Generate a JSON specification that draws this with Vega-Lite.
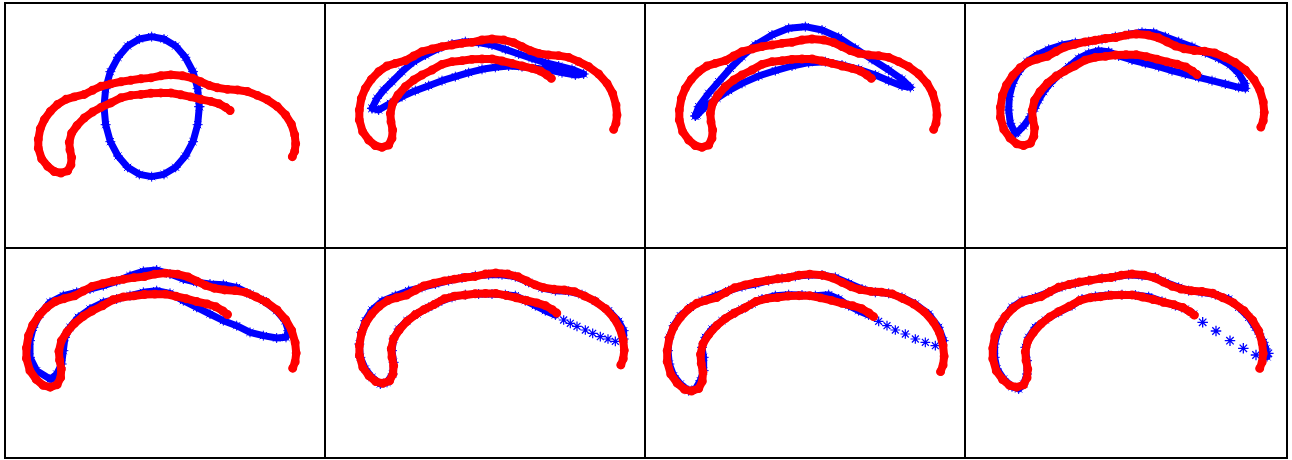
{
"$schema": "https://vega.github.io/schema/vega-lite/v6.json",
"padding": {"left": 4, "top": 2, "right": 0, "bottom": 0},
"spacing": 0,
"columns": 4,
"bounds": "flush",
"config": {"view": {"stroke": "black", "strokeWidth": 2}, "concat": {"spacing": 0}},
"datasets": {
"red": [{"x":875,"y":388},{"x":882,"y":370},{"x":885,"y":345},{"x":882,"y":315},{"x":872,"y":280},{"x":855,"y":250},{"x":830,"y":222},{"x":800,"y":200},{"x":770,"y":185},{"x":740,"y":172},{"x":710,"y":167},{"x":680,"y":165},{"x":650,"y":160},{"x":625,"y":152},{"x":600,"y":140},{"x":575,"y":128},{"x":545,"y":120},{"x":510,"y":117},{"x":480,"y":120},{"x":450,"y":127},{"x":420,"y":130},{"x":390,"y":135},{"x":360,"y":140},{"x":330,"y":147},{"x":300,"y":155},{"x":275,"y":168},{"x":250,"y":182},{"x":220,"y":190},{"x":195,"y":198},{"x":170,"y":215},{"x":148,"y":238},{"x":130,"y":265},{"x":118,"y":295},{"x":112,"y":330},{"x":112,"y":360},{"x":122,"y":395},{"x":140,"y":420},{"x":160,"y":437},{"x":180,"y":442},{"x":200,"y":435},{"x":210,"y":415},{"x":212,"y":390},{"x":207,"y":365},{"x":205,"y":340},{"x":212,"y":310},{"x":228,"y":285},{"x":250,"y":260},{"x":275,"y":240},{"x":300,"y":225},{"x":330,"y":210},{"x":360,"y":193},{"x":390,"y":185},{"x":420,"y":182},{"x":450,"y":178},{"x":480,"y":177},{"x":510,"y":177},{"x":540,"y":183},{"x":570,"y":190},{"x":600,"y":198},{"x":630,"y":205},{"x":655,"y":213},{"x":675,"y":225},{"x":688,"y":235}],
"b1": [{"x":598,"y":320},{"x":593,"y":266},{"x":579,"y":215},{"x":556,"y":172},{"x":527,"y":138},{"x":492,"y":117},{"x":455,"y":110},{"x":418,"y":117},{"x":383,"y":138},{"x":354,"y":172},{"x":331,"y":215},{"x":317,"y":266},{"x":312,"y":320},{"x":317,"y":374},{"x":331,"y":425},{"x":354,"y":468},{"x":383,"y":502},{"x":418,"y":523},{"x":455,"y":530},{"x":492,"y":523},{"x":527,"y":502},{"x":556,"y":468},{"x":579,"y":425},{"x":593,"y":374},{"x":598,"y":320}],
"b2": [{"x":150,"y":325},{"x":165,"y":295},{"x":185,"y":270},{"x":210,"y":245},{"x":240,"y":215},{"x":275,"y":185},{"x":310,"y":165},{"x":350,"y":145},{"x":390,"y":132},{"x":430,"y":125},{"x":470,"y":128},{"x":510,"y":135},{"x":550,"y":148},{"x":590,"y":162},{"x":630,"y":175},{"x":670,"y":188},{"x":710,"y":198},{"x":750,"y":208},{"x":785,"y":222},{"x":760,"y":225},{"x":720,"y":218},{"x":680,"y":210},{"x":640,"y":205},{"x":600,"y":200},{"x":560,"y":198},{"x":520,"y":202},{"x":480,"y":208},{"x":440,"y":218},{"x":400,"y":230},{"x":360,"y":242},{"x":320,"y":257},{"x":280,"y":272},{"x":240,"y":290},{"x":205,"y":310},{"x":170,"y":330},{"x":150,"y":325}],
"b3": [{"x":160,"y":348},{"x":170,"y":320},{"x":200,"y":280},{"x":230,"y":245},{"x":265,"y":205},{"x":300,"y":170},{"x":340,"y":135},{"x":390,"y":105},{"x":440,"y":85},{"x":490,"y":80},{"x":540,"y":90},{"x":590,"y":112},{"x":640,"y":145},{"x":690,"y":178},{"x":740,"y":210},{"x":780,"y":238},{"x":805,"y":262},{"x":780,"y":258},{"x":740,"y":242},{"x":700,"y":225},{"x":650,"y":208},{"x":600,"y":195},{"x":550,"y":185},{"x":500,"y":188},{"x":450,"y":198},{"x":400,"y":212},{"x":350,"y":228},{"x":300,"y":250},{"x":260,"y":272},{"x":225,"y":295},{"x":190,"y":320},{"x":165,"y":345},{"x":160,"y":348}],
"b4": [{"x":160,"y":400},{"x":145,"y":370},{"x":140,"y":330},{"x":142,"y":290},{"x":152,"y":250},{"x":170,"y":215},{"x":195,"y":185},{"x":225,"y":165},{"x":260,"y":148},{"x":300,"y":135},{"x":340,"y":128},{"x":380,"y":125},{"x":420,"y":118},{"x":460,"y":110},{"x":500,"y":103},{"x":540,"y":97},{"x":575,"y":98},{"x":610,"y":110},{"x":650,"y":125},{"x":690,"y":140},{"x":730,"y":158},{"x":770,"y":175},{"x":805,"y":195},{"x":830,"y":220},{"x":848,"y":250},{"x":850,"y":265},{"x":830,"y":262},{"x":790,"y":252},{"x":750,"y":242},{"x":710,"y":232},{"x":670,"y":222},{"x":630,"y":212},{"x":590,"y":200},{"x":550,"y":190},{"x":510,"y":180},{"x":470,"y":168},{"x":440,"y":155},{"x":410,"y":152},{"x":380,"y":160},{"x":350,"y":175},{"x":320,"y":200},{"x":290,"y":225},{"x":265,"y":250},{"x":245,"y":275},{"x":230,"y":300},{"x":218,"y":325},{"x":205,"y":350},{"x":185,"y":378},{"x":165,"y":398},{"x":160,"y":400}],
"b5": [{"x":150,"y":405},{"x":110,"y":380},{"x":90,"y":340},{"x":90,"y":290},{"x":100,"y":250},{"x":120,"y":210},{"x":150,"y":175},{"x":190,"y":155},{"x":230,"y":145},{"x":270,"y":135},{"x":310,"y":125},{"x":350,"y":112},{"x":390,"y":95},{"x":430,"y":82},{"x":470,"y":78},{"x":510,"y":90},{"x":550,"y":105},{"x":590,"y":115},{"x":630,"y":120},{"x":670,"y":122},{"x":710,"y":130},{"x":750,"y":150},{"x":790,"y":170},{"x":830,"y":200},{"x":855,"y":230},{"x":865,"y":260},{"x":858,"y":280},{"x":830,"y":282},{"x":790,"y":275},{"x":750,"y":265},{"x":710,"y":245},{"x":670,"y":230},{"x":630,"y":210},{"x":590,"y":190},{"x":550,"y":170},{"x":510,"y":148},{"x":470,"y":140},{"x":430,"y":145},{"x":390,"y":155},{"x":350,"y":165},{"x":310,"y":175},{"x":270,"y":195},{"x":235,"y":220},{"x":210,"y":250},{"x":195,"y":280},{"x":190,"y":320},{"x":185,"y":360},{"x":170,"y":390},{"x":155,"y":405}],
"b6": [{"x":905,"y":285},{"x":905,"y":260},{"x":890,"y":232},{"x":860,"y":200},{"x":820,"y":172},{"x":780,"y":152},{"x":740,"y":142},{"x":700,"y":140},{"x":660,"y":132},{"x":620,"y":115},{"x":580,"y":98},{"x":540,"y":92},{"x":500,"y":92},{"x":460,"y":95},{"x":420,"y":102},{"x":380,"y":110},{"x":340,"y":120},{"x":300,"y":130},{"x":260,"y":140},{"x":220,"y":155},{"x":180,"y":172},{"x":150,"y":198},{"x":130,"y":230},{"x":118,"y":265},{"x":112,"y":300},{"x":115,"y":340},{"x":130,"y":375},{"x":150,"y":400},{"x":175,"y":420},{"x":195,"y":415},{"x":212,"y":390},{"x":215,"y":355},{"x":210,"y":320},{"x":215,"y":285},{"x":230,"y":255},{"x":255,"y":230},{"x":285,"y":210},{"x":320,"y":190},{"x":350,"y":175},{"x":390,"y":160},{"x":430,"y":152},{"x":470,"y":150},{"x":510,"y":150},{"x":550,"y":152},{"x":580,"y":155},{"x":610,"y":170},{"x":640,"y":185},{"x":670,"y":200},{"x":700,"y":213}],
"t6": [{"x":725,"y":228},{"x":745,"y":238},{"x":765,"y":247},{"x":790,"y":258},{"x":812,"y":268},{"x":835,"y":278},{"x":858,"y":285},{"x":880,"y":292}],
"b7": [{"x":905,"y":290},{"x":890,"y":250},{"x":860,"y":210},{"x":820,"y":180},{"x":780,"y":160},{"x":740,"y":148},{"x":700,"y":145},{"x":660,"y":135},{"x":620,"y":118},{"x":580,"y":100},{"x":540,"y":93},{"x":500,"y":93},{"x":460,"y":97},{"x":420,"y":103},{"x":380,"y":110},{"x":340,"y":120},{"x":300,"y":128},{"x":260,"y":140},{"x":220,"y":155},{"x":180,"y":170},{"x":145,"y":190},{"x":115,"y":215},{"x":95,"y":245},{"x":82,"y":280},{"x":78,"y":320},{"x":82,"y":360},{"x":95,"y":395},{"x":115,"y":420},{"x":140,"y":440},{"x":160,"y":435},{"x":175,"y":410},{"x":185,"y":380},{"x":185,"y":340},{"x":180,"y":310},{"x":190,"y":280},{"x":210,"y":255},{"x":240,"y":230},{"x":270,"y":210},{"x":300,"y":195},{"x":330,"y":180},{"x":360,"y":165},{"x":400,"y":155},{"x":440,"y":152},{"x":480,"y":153},{"x":520,"y":155},{"x":560,"y":152},{"x":590,"y":165},{"x":620,"y":185},{"x":650,"y":200},{"x":680,"y":213}],
"t7": [{"x":710,"y":232},{"x":735,"y":245},{"x":760,"y":258},{"x":790,"y":270},{"x":820,"y":285},{"x":850,"y":295},{"x":880,"y":305}],
"b8": [{"x":915,"y":338},{"x":912,"y":315},{"x":905,"y":295},{"x":892,"y":270},{"x":880,"y":250},{"x":860,"y":220},{"x":830,"y":190},{"x":800,"y":165},{"x":760,"y":152},{"x":720,"y":145},{"x":680,"y":140},{"x":650,"y":130},{"x":610,"y":115},{"x":580,"y":100},{"x":540,"y":95},{"x":500,"y":92},{"x":460,"y":98},{"x":420,"y":103},{"x":380,"y":110},{"x":340,"y":118},{"x":300,"y":128},{"x":260,"y":145},{"x":220,"y":160},{"x":180,"y":170},{"x":150,"y":190},{"x":125,"y":225},{"x":108,"y":260},{"x":98,"y":300},{"x":98,"y":340},{"x":105,"y":375},{"x":125,"y":405},{"x":150,"y":428},{"x":170,"y":435},{"x":185,"y":420},{"x":195,"y":390},{"x":195,"y":350},{"x":190,"y":310},{"x":200,"y":280},{"x":220,"y":250},{"x":250,"y":228},{"x":290,"y":205},{"x":330,"y":185},{"x":360,"y":165},{"x":400,"y":157},{"x":440,"y":153},{"x":480,"y":152},{"x":520,"y":153},{"x":560,"y":158},{"x":600,"y":172},{"x":640,"y":185},{"x":670,"y":195},{"x":695,"y":210}],
"t8": [{"x":722,"y":235},{"x":762,"y":261},{"x":804,"y":290},{"x":844,"y":313},{"x":882,"y":333},{"x":919,"y":328}]
},
"concat": [
{"width": 320, "height": 245, "resolve": {"scale": {"x": "independent", "y": "independent"}}, "layer": [
{"data": {"name": "b1"}, "mark": {"type": "line", "color": "#0000ff", "strokeWidth": 7, "strokeJoin": "round", "strokeCap": "round"}, "encoding": {"x": {"field": "x", "type": "quantitative", "scale": {"domain": [15, 975], "nice": false, "zero": false}, "axis": null}, "y": {"field": "y", "type": "quantitative", "scale": {"domain": [9, 744], "reverse": true, "nice": false, "zero": false}, "axis": null}, "order": {"value": null}}},
{"data": {"name": "b1"}, "mark": {"type": "point", "shape": "M-1,0L1,0M0,-1L0,1M-0.71,-0.71L0.71,0.71M-0.71,0.71L0.71,-0.71", "filled": false, "color": "#0000ff", "size": 100, "strokeWidth": 1, "opacity": 1}, "encoding": {"x": {"field": "x", "type": "quantitative", "scale": {"domain": [15, 975], "nice": false, "zero": false}, "axis": null}, "y": {"field": "y", "type": "quantitative", "scale": {"domain": [9, 744], "reverse": true, "nice": false, "zero": false}, "axis": null}}},
{"data": {"name": "red"}, "mark": {"type": "line", "color": "#ff0000", "strokeWidth": 8, "strokeJoin": "round", "strokeCap": "round"}, "encoding": {"x": {"field": "x", "type": "quantitative", "scale": {"domain": [11.9, 973.1], "nice": false, "zero": false}, "axis": null}, "y": {"field": "y", "type": "quantitative", "scale": {"domain": [-120.9, 690.4], "reverse": true, "nice": false, "zero": false}, "axis": null}, "order": {"value": null}}},
{"data": {"name": "red"}, "mark": {"type": "point", "shape": "circle", "filled": false, "color": "#ff0000", "size": 55, "strokeWidth": 1.5, "opacity": 1}, "encoding": {"x": {"field": "x", "type": "quantitative", "scale": {"domain": [11.9, 973.1], "nice": false, "zero": false}, "axis": null}, "y": {"field": "y", "type": "quantitative", "scale": {"domain": [-120.9, 690.4], "reverse": true, "nice": false, "zero": false}, "axis": null}}}
]},
{"width": 320, "height": 245, "resolve": {"scale": {"x": "independent", "y": "independent"}}, "layer": [
{"data": {"name": "b2"}, "mark": {"type": "line", "color": "#0000ff", "strokeWidth": 7, "strokeJoin": "round", "strokeCap": "round"}, "encoding": {"x": {"field": "x", "type": "quantitative", "scale": {"domain": [9, 969], "nice": false, "zero": false}, "axis": null}, "y": {"field": "y", "type": "quantitative", "scale": {"domain": [9, 744], "reverse": true, "nice": false, "zero": false}, "axis": null}, "order": {"value": null}}},
{"data": {"name": "b2"}, "mark": {"type": "point", "shape": "M-1,0L1,0M0,-1L0,1M-0.71,-0.71L0.71,0.71M-0.71,0.71L0.71,-0.71", "filled": false, "color": "#0000ff", "size": 100, "strokeWidth": 1, "opacity": 1}, "encoding": {"x": {"field": "x", "type": "quantitative", "scale": {"domain": [9, 969], "nice": false, "zero": false}, "axis": null}, "y": {"field": "y", "type": "quantitative", "scale": {"domain": [9, 744], "reverse": true, "nice": false, "zero": false}, "axis": null}}},
{"data": {"name": "red"}, "mark": {"type": "line", "color": "#ff0000", "strokeWidth": 8, "strokeJoin": "round", "strokeCap": "round"}, "encoding": {"x": {"field": "x", "type": "quantitative", "scale": {"domain": [9, 969], "nice": false, "zero": false}, "axis": null}, "y": {"field": "y", "type": "quantitative", "scale": {"domain": [9, 744], "reverse": true, "nice": false, "zero": false}, "axis": null}, "order": {"value": null}}},
{"data": {"name": "red"}, "mark": {"type": "point", "shape": "circle", "filled": false, "color": "#ff0000", "size": 55, "strokeWidth": 1.5, "opacity": 1}, "encoding": {"x": {"field": "x", "type": "quantitative", "scale": {"domain": [9, 969], "nice": false, "zero": false}, "axis": null}, "y": {"field": "y", "type": "quantitative", "scale": {"domain": [9, 744], "reverse": true, "nice": false, "zero": false}, "axis": null}}}
]},
{"width": 320, "height": 245, "resolve": {"scale": {"x": "independent", "y": "independent"}}, "layer": [
{"data": {"name": "b3"}, "mark": {"type": "line", "color": "#0000ff", "strokeWidth": 7, "strokeJoin": "round", "strokeCap": "round"}, "encoding": {"x": {"field": "x", "type": "quantitative", "scale": {"domain": [9, 969], "nice": false, "zero": false}, "axis": null}, "y": {"field": "y", "type": "quantitative", "scale": {"domain": [9, 744], "reverse": true, "nice": false, "zero": false}, "axis": null}, "order": {"value": null}}},
{"data": {"name": "b3"}, "mark": {"type": "point", "shape": "M-1,0L1,0M0,-1L0,1M-0.71,-0.71L0.71,0.71M-0.71,0.71L0.71,-0.71", "filled": false, "color": "#0000ff", "size": 100, "strokeWidth": 1, "opacity": 1}, "encoding": {"x": {"field": "x", "type": "quantitative", "scale": {"domain": [9, 969], "nice": false, "zero": false}, "axis": null}, "y": {"field": "y", "type": "quantitative", "scale": {"domain": [9, 744], "reverse": true, "nice": false, "zero": false}, "axis": null}}},
{"data": {"name": "red"}, "mark": {"type": "line", "color": "#ff0000", "strokeWidth": 8, "strokeJoin": "round", "strokeCap": "round"}, "encoding": {"x": {"field": "x", "type": "quantitative", "scale": {"domain": [9, 969], "nice": false, "zero": false}, "axis": null}, "y": {"field": "y", "type": "quantitative", "scale": {"domain": [9, 744], "reverse": true, "nice": false, "zero": false}, "axis": null}, "order": {"value": null}}},
{"data": {"name": "red"}, "mark": {"type": "point", "shape": "circle", "filled": false, "color": "#ff0000", "size": 55, "strokeWidth": 1.5, "opacity": 1}, "encoding": {"x": {"field": "x", "type": "quantitative", "scale": {"domain": [9, 969], "nice": false, "zero": false}, "axis": null}, "y": {"field": "y", "type": "quantitative", "scale": {"domain": [9, 744], "reverse": true, "nice": false, "zero": false}, "axis": null}}}
]},
{"width": 322, "height": 245, "resolve": {"scale": {"x": "independent", "y": "independent"}}, "layer": [
{"data": {"name": "b4"}, "mark": {"type": "line", "color": "#0000ff", "strokeWidth": 7, "strokeJoin": "round", "strokeCap": "round"}, "encoding": {"x": {"field": "x", "type": "quantitative", "scale": {"domain": [9, 975], "nice": false, "zero": false}, "axis": null}, "y": {"field": "y", "type": "quantitative", "scale": {"domain": [9, 744], "reverse": true, "nice": false, "zero": false}, "axis": null}, "order": {"value": null}}},
{"data": {"name": "b4"}, "mark": {"type": "point", "shape": "M-1,0L1,0M0,-1L0,1M-0.71,-0.71L0.71,0.71M-0.71,0.71L0.71,-0.71", "filled": false, "color": "#0000ff", "size": 100, "strokeWidth": 1, "opacity": 1}, "encoding": {"x": {"field": "x", "type": "quantitative", "scale": {"domain": [9, 975], "nice": false, "zero": false}, "axis": null}, "y": {"field": "y", "type": "quantitative", "scale": {"domain": [9, 744], "reverse": true, "nice": false, "zero": false}, "axis": null}}},
{"data": {"name": "red"}, "mark": {"type": "line", "color": "#ff0000", "strokeWidth": 8, "strokeJoin": "round", "strokeCap": "round"}, "encoding": {"x": {"field": "x", "type": "quantitative", "scale": {"domain": [8.3, 951.6], "nice": false, "zero": false}, "axis": null}, "y": {"field": "y", "type": "quantitative", "scale": {"domain": [26.5, 740.5], "reverse": true, "nice": false, "zero": false}, "axis": null}, "order": {"value": null}}},
{"data": {"name": "red"}, "mark": {"type": "point", "shape": "circle", "filled": false, "color": "#ff0000", "size": 55, "strokeWidth": 1.5, "opacity": 1}, "encoding": {"x": {"field": "x", "type": "quantitative", "scale": {"domain": [8.3, 951.6], "nice": false, "zero": false}, "axis": null}, "y": {"field": "y", "type": "quantitative", "scale": {"domain": [26.5, 740.5], "reverse": true, "nice": false, "zero": false}, "axis": null}}}
]},
{"width": 320, "height": 210, "resolve": {"scale": {"x": "independent", "y": "independent"}}, "layer": [
{"data": {"name": "b5"}, "mark": {"type": "line", "color": "#0000ff", "strokeWidth": 7, "strokeJoin": "round", "strokeCap": "round"}, "encoding": {"x": {"field": "x", "type": "quantitative", "scale": {"domain": [15, 975], "nice": false, "zero": false}, "axis": null}, "y": {"field": "y", "type": "quantitative", "scale": {"domain": [12, 642], "reverse": true, "nice": false, "zero": false}, "axis": null}, "order": {"value": null}}},
{"data": {"name": "b5"}, "mark": {"type": "point", "shape": "M-1,0L1,0M0,-1L0,1M-0.71,-0.71L0.71,0.71M-0.71,0.71L0.71,-0.71", "filled": false, "color": "#0000ff", "size": 100, "strokeWidth": 1, "opacity": 1}, "encoding": {"x": {"field": "x", "type": "quantitative", "scale": {"domain": [15, 975], "nice": false, "zero": false}, "axis": null}, "y": {"field": "y", "type": "quantitative", "scale": {"domain": [12, 642], "reverse": true, "nice": false, "zero": false}, "axis": null}}},
{"data": {"name": "red"}, "mark": {"type": "line", "color": "#ff0000", "strokeWidth": 8, "strokeJoin": "round", "strokeCap": "round"}, "encoding": {"x": {"field": "x", "type": "quantitative", "scale": {"domain": [50.6, 967.5], "nice": false, "zero": false}, "axis": null}, "y": {"field": "y", "type": "quantitative", "scale": {"domain": [45.5, 643.8], "reverse": true, "nice": false, "zero": false}, "axis": null}, "order": {"value": null}}},
{"data": {"name": "red"}, "mark": {"type": "point", "shape": "circle", "filled": false, "color": "#ff0000", "size": 55, "strokeWidth": 1.5, "opacity": 1}, "encoding": {"x": {"field": "x", "type": "quantitative", "scale": {"domain": [50.6, 967.5], "nice": false, "zero": false}, "axis": null}, "y": {"field": "y", "type": "quantitative", "scale": {"domain": [45.5, 643.8], "reverse": true, "nice": false, "zero": false}, "axis": null}}}
]},
{"width": 320, "height": 210, "resolve": {"scale": {"x": "independent", "y": "independent"}}, "layer": [
{"data": {"name": "b6"}, "mark": {"type": "line", "color": "#0000ff", "strokeWidth": 7, "strokeJoin": "round", "strokeCap": "round"}, "encoding": {"x": {"field": "x", "type": "quantitative", "scale": {"domain": [9, 969], "nice": false, "zero": false}, "axis": null}, "y": {"field": "y", "type": "quantitative", "scale": {"domain": [12, 642], "reverse": true, "nice": false, "zero": false}, "axis": null}, "order": {"value": null}}},
{"data": {"name": "b6"}, "mark": {"type": "point", "shape": "M-1,0L1,0M0,-1L0,1M-0.71,-0.71L0.71,0.71M-0.71,0.71L0.71,-0.71", "filled": false, "color": "#0000ff", "size": 100, "strokeWidth": 1, "opacity": 1}, "encoding": {"x": {"field": "x", "type": "quantitative", "scale": {"domain": [9, 969], "nice": false, "zero": false}, "axis": null}, "y": {"field": "y", "type": "quantitative", "scale": {"domain": [12, 642], "reverse": true, "nice": false, "zero": false}, "axis": null}}},
{"data": {"name": "t6"}, "mark": {"type": "point", "shape": "M-1,0L1,0M0,-1L0,1M-0.71,-0.71L0.71,0.71M-0.71,0.71L0.71,-0.71", "filled": false, "color": "#0000ff", "size": 95, "strokeWidth": 1.2, "opacity": 1}, "encoding": {"x": {"field": "x", "type": "quantitative", "scale": {"domain": [9, 969], "nice": false, "zero": false}, "axis": null}, "y": {"field": "y", "type": "quantitative", "scale": {"domain": [12, 642], "reverse": true, "nice": false, "zero": false}, "axis": null}}},
{"data": {"name": "red"}, "mark": {"type": "line", "color": "#ff0000", "strokeWidth": 8, "strokeJoin": "round", "strokeCap": "round"}, "encoding": {"x": {"field": "x", "type": "quantitative", "scale": {"domain": [11.6, 945.5], "nice": false, "zero": false}, "axis": null}, "y": {"field": "y", "type": "quantitative", "scale": {"domain": [43.2, 662.3], "reverse": true, "nice": false, "zero": false}, "axis": null}, "order": {"value": null}}},
{"data": {"name": "red"}, "mark": {"type": "point", "shape": "circle", "filled": false, "color": "#ff0000", "size": 55, "strokeWidth": 1.5, "opacity": 1}, "encoding": {"x": {"field": "x", "type": "quantitative", "scale": {"domain": [11.6, 945.5], "nice": false, "zero": false}, "axis": null}, "y": {"field": "y", "type": "quantitative", "scale": {"domain": [43.2, 662.3], "reverse": true, "nice": false, "zero": false}, "axis": null}}}
]},
{"width": 320, "height": 210, "resolve": {"scale": {"x": "independent", "y": "independent"}}, "layer": [
{"data": {"name": "b7"}, "mark": {"type": "line", "color": "#0000ff", "strokeWidth": 7, "strokeJoin": "round", "strokeCap": "round"}, "encoding": {"x": {"field": "x", "type": "quantitative", "scale": {"domain": [9, 969], "nice": false, "zero": false}, "axis": null}, "y": {"field": "y", "type": "quantitative", "scale": {"domain": [12, 642], "reverse": true, "nice": false, "zero": false}, "axis": null}, "order": {"value": null}}},
{"data": {"name": "b7"}, "mark": {"type": "point", "shape": "M-1,0L1,0M0,-1L0,1M-0.71,-0.71L0.71,0.71M-0.71,0.71L0.71,-0.71", "filled": false, "color": "#0000ff", "size": 100, "strokeWidth": 1, "opacity": 1}, "encoding": {"x": {"field": "x", "type": "quantitative", "scale": {"domain": [9, 969], "nice": false, "zero": false}, "axis": null}, "y": {"field": "y", "type": "quantitative", "scale": {"domain": [12, 642], "reverse": true, "nice": false, "zero": false}, "axis": null}}},
{"data": {"name": "t7"}, "mark": {"type": "point", "shape": "M-1,0L1,0M0,-1L0,1M-0.71,-0.71L0.71,0.71M-0.71,0.71L0.71,-0.71", "filled": false, "color": "#0000ff", "size": 95, "strokeWidth": 1.2, "opacity": 1}, "encoding": {"x": {"field": "x", "type": "quantitative", "scale": {"domain": [9, 969], "nice": false, "zero": false}, "axis": null}, "y": {"field": "y", "type": "quantitative", "scale": {"domain": [12, 642], "reverse": true, "nice": false, "zero": false}, "axis": null}}},
{"data": {"name": "red"}, "mark": {"type": "line", "color": "#ff0000", "strokeWidth": 8, "strokeJoin": "round", "strokeCap": "round"}, "encoding": {"x": {"field": "x", "type": "quantitative", "scale": {"domain": [50.1, 943.2], "nice": false, "zero": false}, "axis": null}, "y": {"field": "y", "type": "quantitative", "scale": {"domain": [44.4, 628.0], "reverse": true, "nice": false, "zero": false}, "axis": null}, "order": {"value": null}}},
{"data": {"name": "red"}, "mark": {"type": "point", "shape": "circle", "filled": false, "color": "#ff0000", "size": 55, "strokeWidth": 1.5, "opacity": 1}, "encoding": {"x": {"field": "x", "type": "quantitative", "scale": {"domain": [50.1, 943.2], "nice": false, "zero": false}, "axis": null}, "y": {"field": "y", "type": "quantitative", "scale": {"domain": [44.4, 628.0], "reverse": true, "nice": false, "zero": false}, "axis": null}}}
]},
{"width": 322, "height": 210, "resolve": {"scale": {"x": "independent", "y": "independent"}}, "layer": [
{"data": {"name": "b8"}, "mark": {"type": "line", "color": "#0000ff", "strokeWidth": 7, "strokeJoin": "round", "strokeCap": "round"}, "encoding": {"x": {"field": "x", "type": "quantitative", "scale": {"domain": [9, 975], "nice": false, "zero": false}, "axis": null}, "y": {"field": "y", "type": "quantitative", "scale": {"domain": [12, 642], "reverse": true, "nice": false, "zero": false}, "axis": null}, "order": {"value": null}}},
{"data": {"name": "b8"}, "mark": {"type": "point", "shape": "M-1,0L1,0M0,-1L0,1M-0.71,-0.71L0.71,0.71M-0.71,0.71L0.71,-0.71", "filled": false, "color": "#0000ff", "size": 100, "strokeWidth": 1, "opacity": 1}, "encoding": {"x": {"field": "x", "type": "quantitative", "scale": {"domain": [9, 975], "nice": false, "zero": false}, "axis": null}, "y": {"field": "y", "type": "quantitative", "scale": {"domain": [12, 642], "reverse": true, "nice": false, "zero": false}, "axis": null}}},
{"data": {"name": "t8"}, "mark": {"type": "point", "shape": "M-1,0L1,0M0,-1L0,1M-0.71,-0.71L0.71,0.71M-0.71,0.71L0.71,-0.71", "filled": false, "color": "#0000ff", "size": 110, "strokeWidth": 1.3, "opacity": 1}, "encoding": {"x": {"field": "x", "type": "quantitative", "scale": {"domain": [9, 975], "nice": false, "zero": false}, "axis": null}, "y": {"field": "y", "type": "quantitative", "scale": {"domain": [12, 642], "reverse": true, "nice": false, "zero": false}, "axis": null}}},
{"data": {"name": "red"}, "mark": {"type": "line", "color": "#ff0000", "strokeWidth": 8, "strokeJoin": "round", "strokeCap": "round"}, "encoding": {"x": {"field": "x", "type": "quantitative", "scale": {"domain": [32.6, 953.0], "nice": false, "zero": false}, "axis": null}, "y": {"field": "y", "type": "quantitative", "scale": {"domain": [42.1, 645.5], "reverse": true, "nice": false, "zero": false}, "axis": null}, "order": {"value": null}}},
{"data": {"name": "red"}, "mark": {"type": "point", "shape": "circle", "filled": false, "color": "#ff0000", "size": 55, "strokeWidth": 1.5, "opacity": 1}, "encoding": {"x": {"field": "x", "type": "quantitative", "scale": {"domain": [32.6, 953.0], "nice": false, "zero": false}, "axis": null}, "y": {"field": "y", "type": "quantitative", "scale": {"domain": [42.1, 645.5], "reverse": true, "nice": false, "zero": false}, "axis": null}}}
]}
]
}
